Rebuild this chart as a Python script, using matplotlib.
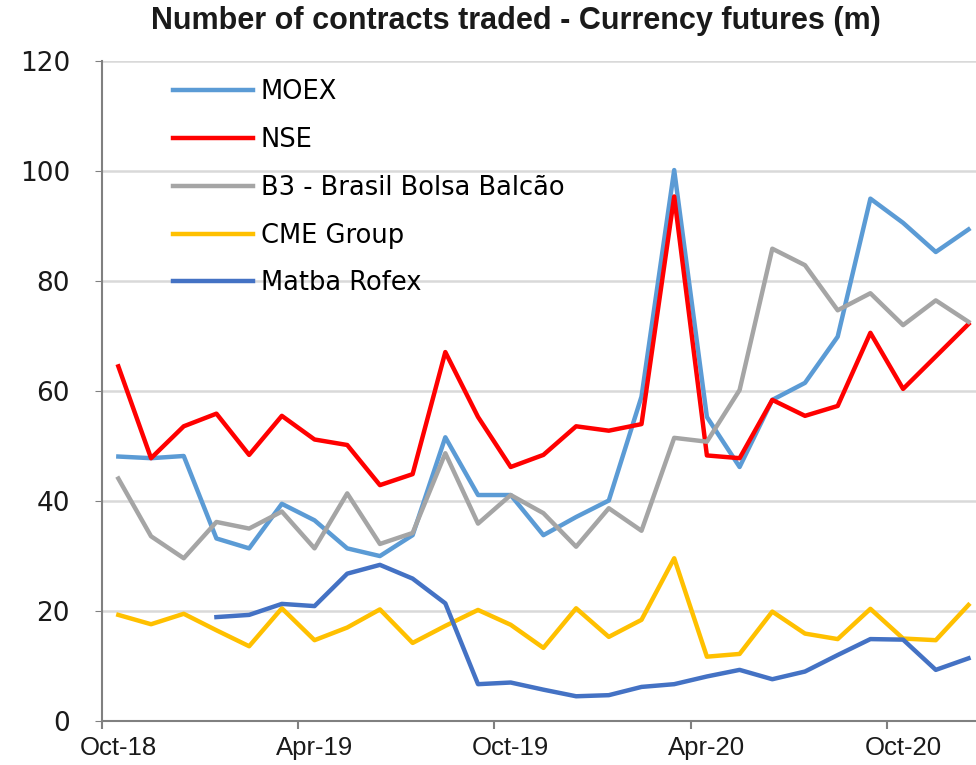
import matplotlib
matplotlib.use("Agg")
import matplotlib.pyplot as plt
import numpy as np

# monthly values, Oct-18 .. Dec-20
months = ["Oct-18", "Nov-18", "Dec-18", "Jan-19", "Feb-19", "Mar-19", "Apr-19", "May-19", "Jun-19",
          "Jul-19", "Aug-19", "Sep-19", "Oct-19", "Nov-19", "Dec-19", "Jan-20", "Feb-20", "Mar-20",
          "Apr-20", "May-20", "Jun-20", "Jul-20", "Aug-20", "Sep-20", "Oct-20", "Nov-20", "Dec-20"]

moex = [48.1, 47.8, 48.2, 33.2, 31.4, 39.5, 36.5, 31.4, 30.0, 33.8, 51.6, 41.1, 41.1, 33.8,
        37.1, 40.1, 59.0, 100.2, 55.3, 46.2, 58.4, 61.5, 69.9, 95.0, 90.6, 85.3, 89.4]
nse = [64.5, 47.8, 53.6, 55.9, 48.4, 55.5, 51.2, 50.2, 42.9, 44.9, 67.1, 55.3, 46.2, 48.4,
       53.6, 52.8, 54.0, 95.4, 48.3, 47.8, 58.4, 55.5, 57.3, 70.6, 60.4, 66.3, 72.2]
b3 = [44.1, 33.6, 29.6, 36.2, 35.0, 38.1, 31.4, 41.4, 32.2, 34.2, 48.7, 35.9, 41.1, 37.8,
      31.7, 38.7, 34.6, 51.5, 50.8, 60.2, 85.9, 82.9, 74.7, 77.8, 72.0, 76.5, 72.6]
cme = [19.3, 17.6, 19.5, 16.5, 13.6, 20.5, 14.7, 17.0, 20.3, 14.2, 17.3, 20.2, 17.5, 13.3,
       20.5, 15.3, 18.4, 29.6, 11.7, 12.2, 19.9, 15.9, 14.9, 20.4, 15.0, 14.7, 21.1]
matba = [np.nan, np.nan, np.nan, 18.9, 19.3, 21.3, 20.9, 26.8, 28.4, 25.9, 21.4, 6.7, 7.0, 5.7,
         4.5, 4.7, 6.2, 6.7, 8.1, 9.3, 7.6, 9.0, 12.0, 14.9, 14.8, 9.3, 11.4]

series = [("MOEX", moex, "#5B9BD5"),
          ("NSE", nse, "#FF0000"),
          ("B3 - Brasil Bolsa Balcão", b3, "#A5A5A5"),
          ("CME Group", cme, "#FFC000"),
          ("Matba Rofex", matba, "#4472C4")]

plt.rcParams["font.family"] = ["DejaVu Sans"]

fig = plt.figure(figsize=(9.76, 7.65), dpi=100)
ax = fig.add_axes([0.1045, 0.0575, 0.8955, 0.8625])

x = np.arange(len(months))
for name, vals, col in series:
    ax.plot(x, vals, color=col, lw=3.2, label=name)

ax.set_ylim(0, 120)
ax.set_yticks(range(0, 121, 20))
ax.set_xlim(-0.5, 26.23)
# labels sit on the month, tick marks between months
ax.set_xticks(np.arange(0, 27, 6))
ax.set_xticklabels(months[::6])
ax.set_xticks(np.arange(-0.5, 26, 6), minor=True)
ax.grid(axis="y", color="#D9D9D9", lw=1.8)
ax.set_axisbelow(True)

for s in ["top", "right"]:
    ax.spines[s].set_visible(False)
for s in ["left", "bottom"]:
    ax.spines[s].set_color("#808080")
    ax.spines[s].set_linewidth(1.5)
ax.tick_params(axis="y", length=5, color="#808080", labelsize=19, pad=18)
ax.tick_params(axis="x", which="major", length=0, labelsize=18.5, pad=11)
ax.tick_params(axis="x", which="minor", length=6, color="#808080", width=1.5)
for lab in ax.get_yticklabels():
    lab.set_color("#1a1a1a")
for lab in ax.get_xticklabels():
    lab.set_color("#1a1a1a")
    lab.set_family(["Liberation Sans"])

ax.legend(loc="upper left", bbox_to_anchor=(0.055, 1.008), frameon=False, fontsize=18.5,
          handlelength=3.1, handletextpad=0.3, labelspacing=0.85)

fig.text(0.529, 0.972, "Number of contracts traded - Currency futures (m)", ha="center", va="center",
         fontsize=22, fontweight="bold", color="#1a1a1a", family=["Liberation Sans"])

fig.savefig("out.png", dpi=100)
